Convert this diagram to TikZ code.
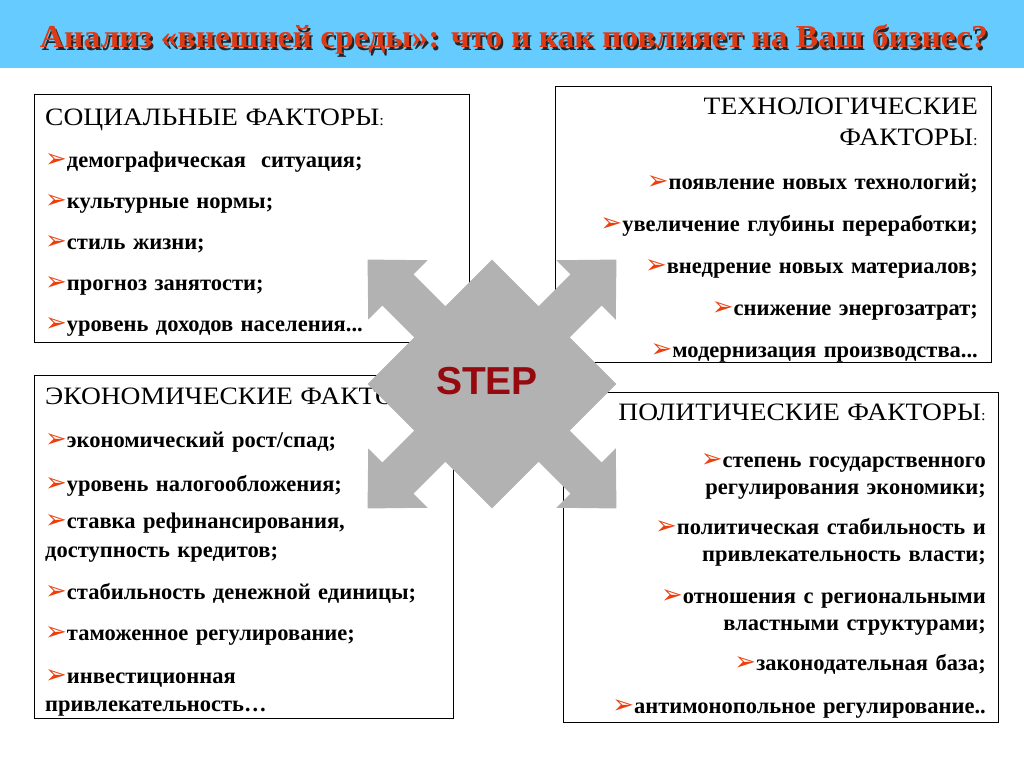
\documentclass[tikz,border=0pt]{standalone}
\usepackage{fontspec}
\setmainfont{Liberation Serif}
\newfontfamily\stepfont{Liberation Sans}
\newfontfamily\bulfont{DejaVu Sans}
\newfontfamily\titlefont[FakeStretch=1.05]{Liberation Serif}
\newfontfamily\headfont[FakeStretch=1.1]{Liberation Serif}
\usetikzlibrary{positioning}

\definecolor{titleblue}{RGB}{102,204,255}
\definecolor{titlered}{RGB}{222,58,22}
\definecolor{bulred}{RGB}{238,62,12}
\definecolor{arrowgray}{RGB}{178,178,178}
\definecolor{stepred}{RGB}{150,10,15}

\newcommand{\bul}{{\bulfont\color{bulred}\fontsize{26}{26}\selectfont ➢}}
\newcommand{\hdf}{\headfont\fontsize{25}{27}\selectfont\mdseries}
\newcommand{\cln}{{\fontsize{15}{15}\selectfont :}}

\tikzset{
  factbox/.style={draw, line width=1pt, fill=white, inner sep=0pt, anchor=north west},
  facttext/.style={inner sep=0pt, font=\bfseries\fontsize{22.5}{27}\selectfont},
}

\begin{document}
\begin{tikzpicture}[x=1pt, y=-1pt]
\useasboundingbox (0,0) rectangle (1024,768);

% title band
\fill[titleblue] (0,0) rectangle (1024,68);
\node[anchor=base, text=black!85, font=\titlefont\bfseries\fontsize{32}{32}\selectfont] (titleshadow) at (516,50) {Анализ «внешней среды»: что и как повлияет на Ваш бизнес?};
\node[anchor=base, text=titlered, font=\titlefont\bfseries\fontsize{32}{32}\selectfont] (title) at (514,48) {Анализ «внешней среды»: что и как повлияет на Ваш бизнес?};

% the four boxes
\node[factbox, minimum width=435pt, minimum height=248pt] (social) at (34,94) {};
\node[factbox, minimum width=436pt, minimum height=276pt] (tech) at (555,86) {};
\node[factbox, minimum width=419pt, minimum height=343pt] (econ) at (34,375) {};
\node[factbox, minimum width=435pt, minimum height=330pt] (polit) at (563,392) {};

\node[facttext, anchor=north west, align=left, text width=425pt] (socialtxt) at ([shift={(11,15)}]social.north west) {%
  {\hdf СОЦИАЛЬНЫЕ ФАКТОРЫ\cln}\\[15pt]
  \bul демографическая\ \ ситуация;\\[14pt]
  \bul культурные нормы;\\[14pt]
  \bul стиль жизни;\\[14pt]
  \bul прогноз занятости;\\[14pt]
  \bul уровень доходов населения...};

\node[facttext, anchor=north east, align=right, text width=425pt] (techtxt) at ([shift={(-14,12)}]tech.north east) {%
  {\hdf ТЕХНОЛОГИЧЕСКИЕ}\\[4pt]
  {\hdf ФАКТОРЫ\cln}\\[17pt]
  \bul появление новых технологий;\\[15pt]
  \bul увеличение глубины переработки;\\[15pt]
  \bul внедрение новых материалов;\\[15pt]
  \bul снижение энергозатрат;\\[15pt]
  \bul модернизация производства...};

\node[facttext, anchor=north west, align=left, text width=410pt] (econtxt) at ([shift={(11,13)}]econ.north west) {%
  {\hdf ЭКОНОМИЧЕСКИЕ ФАКТОРЫ\cln}\\[16pt]
  \bul экономический рост/спад;\\[17pt]
  \bul уровень налогообложения;\\[10pt]
  \bul ставка рефинансирования,\\[2pt]
  доступность кредитов;\\[15pt]
  \bul стабильность денежной единицы;\\[14pt]
  \bul таможенное регулирование;\\[16pt]
  \bul инвестиционная\\[1pt]
  привлекательность…};

\node[facttext, anchor=north east, align=right, text width=425pt] (polittxt) at ([shift={(-13,12)}]polit.north east) {%
  {\hdf ПОЛИТИЧЕСКИЕ ФАКТОРЫ\cln}\\[20pt]
  \bul степень государственного\\
  регулирования экономики;\\[13pt]
  \bul политическая стабильность и\\
  привлекательность власти;\\[15pt]
  \bul отношения с региональными\\
  властными структурами;\\[13pt]
  \bul законодательная база;\\[16pt]
  \bul антимонопольное регулирование..};

% STEP cross of arrows
\begin{scope}[shift={(492,384)}, rotate=45]
  \fill[arrowgray] (-88,-88) -- (88,-88) -- (88,88) -- (-88,88) -- cycle;
  \foreach \a in {0,90,180,270}
    \fill[arrowgray, rotate=\a] (80,-22) -- (133,-22) -- (133,-42) -- (176,0) -- (133,42) -- (133,22) -- (80,22) -- cycle;
\end{scope}
\node[text=stepred, font=\stepfont\bfseries\fontsize{39}{39}\selectfont] (step) at (487,381) {STEP};

\end{tikzpicture}
\end{document}
